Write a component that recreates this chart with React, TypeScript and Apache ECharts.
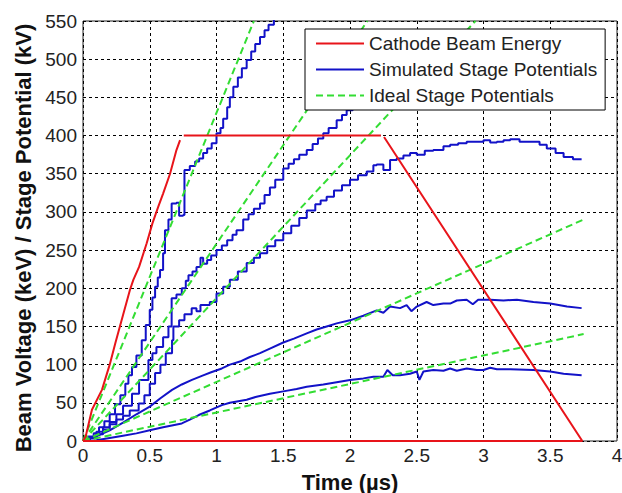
import React, { useEffect, useRef } from "react";
import * as echarts from "echarts";

// Cathode beam energy (keV) vs time (µs)
const redRamp: number[][] = [
  [0, 0], [0.02, 6], [0.067, 41], [0.142, 67], [0.2, 100], [0.242, 128], [0.3, 165], [0.352, 198],
  [0.377, 211], [0.42, 228], [0.477, 259], [0.52, 285], [0.564, 307], [0.6, 324], [0.652, 350],
  [0.7, 381], [0.727, 394],
];
const redFlat: number[][] = [[0.755, 400], [2.232, 400]];
const redDrop: number[][] = [[2.255, 398], [3.74, 0], [0, 0]];

// Simulated stage potentials (kV)
const blue1: number[][] = [
  [0, 0], [0.04, 6], [0.08, 10], [0.12, 18], [0.16, 26], [0.2, 35], [0.24, 48], [0.28, 60], [0.317, 75],
  [0.34, 86], [0.367, 97], [0.4, 112], [0.44, 132], [0.47, 152], [0.5, 172], [0.52, 188], [0.54, 202],
  [0.56, 214], [0.577, 224], [0.6, 246], [0.614, 276], [0.64, 290], [0.664, 311], [0.7, 312], [0.72, 295],
  [0.75, 296], [0.76, 355], [0.8, 360], [0.84, 366], [0.87, 370], [0.9, 377], [0.93, 383], [0.964, 390],
  [1.0, 403], [1.03, 410], [1.05, 422], [1.08, 437], [1.1, 450], [1.126, 464], [1.16, 476], [1.19, 488],
  [1.226, 499], [1.26, 510], [1.29, 520], [1.326, 529], [1.36, 538], [1.39, 545], [1.43, 556],
];
const blue2: number[][] = [
  [0, 0], [0.05, 5], [0.1, 12], [0.15, 18], [0.2, 25], [0.25, 35], [0.3, 46], [0.367, 62], [0.42, 80],
  [0.49, 106], [0.52, 115], [0.55, 123], [0.6, 136], [0.64, 150], [0.664, 187], [0.7, 192], [0.74, 200],
  [0.77, 210], [0.79, 217], [0.82, 222], [0.85, 228], [0.88, 240], [0.9, 232], [0.93, 237], [0.96, 243],
  [1.0, 250], [1.04, 256], [1.08, 263], [1.12, 270], [1.15, 276], [1.2, 290], [1.24, 297], [1.28, 304],
  [1.326, 311], [1.36, 322], [1.4, 332], [1.44, 342], [1.5, 357], [1.54, 363], [1.58, 369], [1.62, 375],
  [1.676, 381], [1.72, 389], [1.76, 396], [1.8, 403], [1.84, 410], [1.9, 420], [1.94, 427], [1.975, 433],
  [2.02, 445], [2.07, 460], [2.12, 475], [2.18, 495],
];
const blue3: number[][] = [
  [0, 0], [0.05, 4], [0.1, 9], [0.15, 15], [0.2, 22], [0.25, 28], [0.3, 33], [0.35, 40], [0.417, 49],
  [0.46, 60], [0.5, 75], [0.54, 89], [0.58, 100], [0.62, 115], [0.667, 132], [0.677, 150], [0.72, 158],
  [0.76, 166], [0.814, 174], [0.85, 170], [0.88, 178], [0.95, 182], [1.0, 193], [1.05, 202], [1.1, 211],
  [1.16, 222], [1.226, 233], [1.28, 240], [1.326, 246], [1.38, 255], [1.44, 263], [1.5, 272], [1.56, 282],
  [1.62, 292], [1.676, 302], [1.74, 310], [1.78, 315], [1.825, 320], [1.88, 328], [1.94, 335], [2.0, 342],
  [2.06, 348], [2.125, 353], [2.175, 361], [2.2, 362], [2.25, 355], [2.3, 368], [2.35, 370], [2.4, 374],
  [2.45, 377], [2.5, 375], [2.56, 380], [2.624, 381], [2.7, 386], [2.75, 388], [2.81, 390], [2.874, 392],
  [2.94, 392], [3.0, 394], [3.05, 391], [3.1, 392], [3.15, 394], [3.2, 395], [3.27, 392], [3.35, 392],
  [3.42, 388], [3.474, 383], [3.54, 377], [3.6, 372], [3.67, 369], [3.735, 369],
];
const blue4: number[][] = [
  [0, 0], [0.1, 6], [0.2, 14], [0.3, 24], [0.4, 35], [0.5, 45], [0.58, 56], [0.667, 67], [0.74, 74],
  [0.816, 80], [0.9, 86], [0.96, 90], [1.04, 95], [1.1, 100], [1.176, 104], [1.25, 110], [1.326, 115],
  [1.4, 121], [1.5, 129], [1.58, 134], [1.676, 141], [1.75, 146], [1.825, 150], [1.9, 154], [2.0, 158],
  [2.1, 164], [2.2, 171], [2.25, 168], [2.3, 176], [2.375, 174], [2.424, 178], [2.46, 170], [2.5, 176],
  [2.574, 182], [2.624, 178], [2.7, 180], [2.75, 180], [2.8, 184], [2.874, 185], [2.92, 179], [2.96, 185],
  [3.05, 185], [3.15, 184], [3.25, 185], [3.374, 182], [3.5, 180], [3.625, 176], [3.735, 174],
];
const blue5: number[][] = [
  [0, 0], [0.1, 1], [0.2, 4], [0.3, 7], [0.4, 10], [0.5, 14], [0.6, 18], [0.74, 23], [0.8, 28], [0.867, 34],
  [0.95, 40], [1.04, 47], [1.1, 50], [1.226, 54], [1.3, 58], [1.4, 62], [1.5, 65], [1.6, 68], [1.676, 71],
  [1.8, 74], [1.9, 77], [2.0, 80], [2.1, 82], [2.175, 84], [2.25, 84], [2.28, 93], [2.32, 86], [2.374, 86],
  [2.45, 88], [2.5, 91], [2.52, 80], [2.55, 91], [2.624, 93], [2.7, 92], [2.75, 95], [2.8, 92], [2.874, 95],
  [2.95, 93], [3.0, 93], [3.05, 96], [3.1, 94], [3.2, 94], [3.374, 93], [3.5, 91], [3.6, 88], [3.735, 86],
];

// Ideal stage potentials: straight lines from the origin to these end points
const idealEnds: number[][] = [[1.28, 550], [2.13, 550], [2.94, 550], [3.75, 290], [3.75, 140]];

const legendNames = ["Cathode Beam Energy", "Simulated Stage Potentials", "Ideal Stage Potentials"];

const RED = "#e8141a";
const BLUE = "#1212c8";
const GREEN = "#33dd33";
const FONT = "'Liberation Sans', Arial, sans-serif";

export default function App() {
  const ref = useRef<HTMLDivElement>(null);
  useEffect(() => {
    const chart = echarts.init(ref.current!, null, { renderer: "svg" });
    const blueSeries = [blue1, blue2, blue3, blue4, blue5].map((d, i) => ({
      type: "line",
      name: legendNames[1],
      data: d,
      step: i < 3 ? "end" : false,
      symbol: "none",
      lineStyle: { color: BLUE, width: 2 },
      itemStyle: { color: BLUE },
      z: 3,
    }));
    const greenSeries = idealEnds.map((e) => ({
      type: "line",
      name: legendNames[2],
      data: [[0, 0], e],
      symbol: "none",
      lineStyle: { color: GREEN, width: 2, type: [7, 4] },
      itemStyle: { color: GREEN },
      z: 4,
    }));
    const redSeries = [redRamp, redFlat, redDrop].map((d) => ({
      type: "line",
      name: legendNames[0],
      data: d,
      symbol: "none",
      lineStyle: { color: RED, width: 2 },
      itemStyle: { color: RED },
      z: 5,
    }));
    chart.setOption({
      animation: false,
      backgroundColor: "#fff",
      textStyle: { fontFamily: FONT },
      grid: {
        left: 83, right: 5, top: 21, bottom: 52,
        outerBoundsMode: "none",
        containLabel: false,
        show: true, borderColor: "#222", borderWidth: 1, backgroundColor: "transparent",
      },
      xAxis: {
        type: "value", min: 0, max: 4, interval: 0.5,
        name: "Time (µs)", nameLocation: "middle", nameGap: 30,
        nameTextStyle: { fontSize: 22, fontWeight: "bold", color: "#111", fontFamily: FONT },
        axisLine: { show: false },
        axisTick: { show: false },
        axisLabel: { fontSize: 19, color: "#222", margin: 5, fontFamily: FONT },
        splitLine: { show: true, lineStyle: { color: "#000", type: [3, 3], width: 1 } },
      },
      yAxis: {
        type: "value", min: 0, max: 550, interval: 50,
        name: "Beam Voltage (keV) / Stage Potential (kV)", nameLocation: "middle", nameGap: 47,
        nameTextStyle: { fontSize: 22, fontWeight: "bold", color: "#111", fontFamily: FONT, padding: [0, 14, 0, 0] },
        axisLine: { show: false },
        axisTick: { show: false },
        axisLabel: { fontSize: 19, color: "#222", margin: 6, fontFamily: FONT },
        splitLine: { show: true, lineStyle: { color: "#000", type: [3, 3], width: 1 } },
      },
      legend: {
        data: legendNames,
        orient: "vertical",
        left: 305, top: 29,
        padding: [5, 8, 5, 10],
        itemWidth: 48, itemHeight: 14, itemGap: 7,
        itemStyle: { opacity: 0 },
        backgroundColor: "#fff", borderColor: "#000", borderWidth: 1,
        textStyle: { fontSize: 19, color: "#222", fontFamily: FONT, lineHeight: 19 },
        z: 10,
      },
      series: [...blueSeries, ...greenSeries, ...redSeries],
    });
    return () => chart.dispose();
  }, []);
  return <div ref={ref} style={{ position: "absolute", left: 0, top: 0, width: 622, height: 493 }} />;
}
